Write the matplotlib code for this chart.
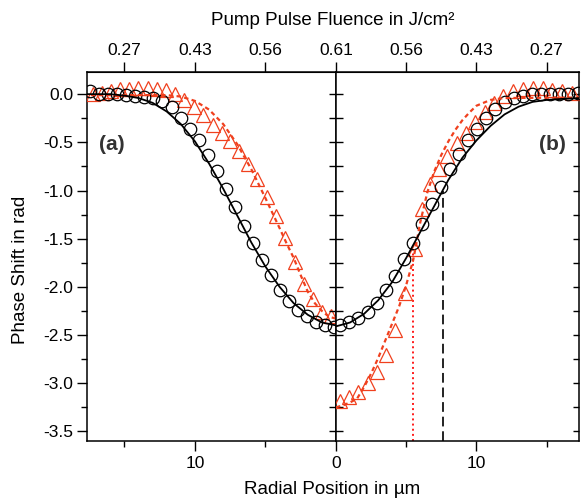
import numpy as np
import matplotlib
matplotlib.use('Agg')
import matplotlib.pyplot as plt

plt.rcParams['font.family'] = ['Liberation Sans', 'DejaVu Sans']

# ---- data (radial position in um, phase shift in rad) ----
# panel (a), left side, radius measured from the centre
r_circ_a = [0.14, 0.78, 1.42, 2.06, 2.70, 3.34, 3.98, 4.62, 5.26, 5.90, 6.54, 7.18, 7.82, 8.46,
            9.10, 9.74, 10.38, 11.02, 11.66, 12.30, 12.94, 13.58, 14.22, 14.86, 15.50, 16.14, 16.78, 17.42]
phi_circ_a = [-2.42, -2.40, -2.36, -2.30, -2.24, -2.15, -2.035, -1.88, -1.72, -1.55, -1.37, -1.17, -0.98, -0.80,
              -0.63, -0.48, -0.36, -0.25, -0.13, -0.07, -0.04, -0.03, -0.02, -0.01, 0.0, 0.0, 0.0, 0.03]

r_tri_a = [0.38, 1.01, 1.61, 2.27, 2.91, 3.62, 4.26, 4.91, 5.58, 6.22, 6.86, 7.52, 8.11, 8.74, 9.45,
           10.09, 10.74, 11.39, 12.04, 12.70, 13.35, 14.00, 14.65, 15.30, 15.96, 16.61, 17.26]
phi_tri_a = [-2.30, -2.265, -2.125, -1.966, -1.745, -1.49, -1.26, -1.065, -0.879, -0.73, -0.585, -0.488, -0.408,
             -0.325, -0.22, -0.13, -0.06, 0.0, 0.04, 0.055, 0.06, 0.06, 0.055, 0.05, 0.03, 0.01, 0.0]

r_fit_black_a = [0, 1, 2, 3, 4, 5, 6, 7, 8, 9, 10, 11, 12, 13, 14, 15, 16, 17.7]
phi_fit_black_a = [-2.40, -2.37, -2.29, -2.17, -2.00, -1.79, -1.54, -1.26, -0.98, -0.72, -0.49, -0.31,
                   -0.18, -0.09, -0.04, -0.015, 0.0, 0.0]

r_fit_red_a = [0, 0.5, 1, 1.5, 2, 2.5, 3, 3.5, 4, 5, 6, 7, 8, 9, 10, 11, 12, 13, 17.7]
phi_fit_red_a = [-2.33, -2.31, -2.25, -2.17, -2.05, -1.88, -1.70, -1.55, -1.39, -1.08, -0.78, -0.52,
                 -0.31, -0.16, -0.07, -0.025, -0.01, -0.01, -0.01]

# panel (b), right side
r_circ_b = [0.3, 0.95, 1.6, 2.25, 2.9, 3.55, 4.2, 4.85, 5.5, 6.15, 6.8, 7.45, 8.1, 8.75, 9.4, 10.05,
            10.7, 11.35, 12.0, 12.65, 13.3, 13.95, 14.6, 15.25, 15.9, 16.55, 17.2]
phi_circ_b = [-2.40, -2.37, -2.32, -2.26, -2.17, -2.03, -1.89, -1.71, -1.54, -1.35, -1.14, -0.96, -0.78,
              -0.62, -0.48, -0.36, -0.245, -0.15, -0.085, -0.04, -0.015, 0.0, 0.0, 0.0, 0.0, 0.0, 0.01]

r_tri_b = [0.28, 0.96, 1.6, 2.27, 2.91, 3.55, 4.19, 4.9, 5.61, 6.1, 6.68, 7.32, 7.92, 8.6, 9.24, 9.88,
           10.59, 11.23, 11.87, 12.58, 13.29, 14.0, 14.71, 15.35, 16.06, 16.77]
phi_tri_b = [-3.19, -3.14, -3.09, -3.0, -2.88, -2.71, -2.45, -2.06, -1.61, -1.19, -0.93, -0.78, -0.645,
             -0.51, -0.40, -0.29, -0.18, -0.09, -0.02, 0.03, 0.055, 0.06, 0.06, 0.04, 0.03, 0.01]

r_fit_black_b = [0, 1, 2, 3, 4, 5, 6, 7, 8, 9, 10, 11, 12, 13, 14, 15, 16, 17.4]
phi_fit_black_b = [-2.41, -2.37, -2.28, -2.14, -1.95, -1.70, -1.43, -1.16, -0.89, -0.66, -0.48, -0.33,
                   -0.21, -0.13, -0.08, -0.06, -0.05, -0.04]

r_fit_red_b = [0, 0.5, 1, 1.5, 2, 2.5, 3, 3.5, 4, 4.5, 5, 5.5, 6, 6.5, 7, 7.5, 8, 8.5, 9, 9.5, 10, 11, 12, 17.4]
phi_fit_red_b = [-3.25, -3.23, -3.20, -3.16, -3.04, -2.90, -2.74, -2.56, -2.38, -2.20, -1.98, -1.72, -1.33,
                 -1.02, -0.80, -0.63, -0.49, -0.37, -0.27, -0.19, -0.12, -0.06, -0.04, -0.035]

# marker radii (vertical guides in panel b)
r_mark_red, phi_mark_red = 5.49, -1.61
r_mark_black, phi_mark_black = 7.65, -1.0

# top axis: fluence at given radii
fluence_r = [0, 5, 10, 15]
fluence_lbl = ['0.61', '0.56', '0.43', '0.27']

red = '#f0401e'
ylim = (-3.60, 0.23)

fig = plt.figure(figsize=(5.82, 4.98), dpi=100)
axa = fig.add_axes([87/582, 1 - 441/498, (336 - 87)/582, (441 - 72)/498])
axb = fig.add_axes([336/582, 1 - 441/498, (579 - 336)/582, (441 - 72)/498])

mk = dict(linestyle='none', markerfacecolor='none', markeredgewidth=0.9)

for ax, rc, pc, rt, pt, rfb, pfb, rfr, pfr in [
        (axa, r_circ_a, phi_circ_a, r_tri_a, phi_tri_a, r_fit_black_a, phi_fit_black_a, r_fit_red_a, phi_fit_red_a),
        (axb, r_circ_b, phi_circ_b, r_tri_b, phi_tri_b, r_fit_black_b, phi_fit_black_b, r_fit_red_b, phi_fit_red_b)]:
    ax.plot(rt, pt, marker='^', markersize=10, markeredgecolor=red, zorder=3, **mk)
    ax.plot(rc, pc, marker='o', markersize=9, markeredgecolor='black', zorder=4, **mk)
    ax.plot(rfr, pfr, color=red, lw=1.6, linestyle=(0, (2.0, 1.5)), zorder=5)
    ax.plot(rfb, pfb, color='black', lw=1.3, zorder=5)
    ax.set_ylim(ylim)

axb.plot([r_mark_red, r_mark_red], [ylim[0], phi_mark_red], color='#ff1a1a', lw=1.4, linestyle=':', zorder=2)
axb.plot([r_mark_black, r_mark_black], [ylim[0], phi_mark_black], color='#222222', lw=1.4,
         linestyle=(0, (5, 2.5)), zorder=2)

axa.set_xlim(17.65, 0)
axb.set_xlim(0, 17.3)

# y axes
yt = np.arange(-3.5, 0.01, 0.5)
ytm = np.arange(-3.25, 0.2, 0.5)
axa.set_yticks(yt)
axa.set_yticks(ytm, minor=True)
axa.set_yticklabels(['%.1f' % v for v in yt])
axa.tick_params(axis='y', which='major', left=True, right=False, direction='out', length=7, width=1,
                labelsize=12.5, pad=3)
axa.tick_params(axis='y', which='minor', left=True, right=False, direction='out', length=4, width=1)
axb.set_yticks(yt)
axb.set_yticks(ytm, minor=True)
axb.tick_params(axis='y', which='both', left=True, right=True, labelleft=False, direction='inout',
                length=10, width=1)
axb.tick_params(axis='y', which='both', right=True)
for t in axb.yaxis.get_major_ticks() + axb.yaxis.get_minor_ticks():
    t.tick2line.set_markersize(4)
    t.tick2line.set_marker(matplotlib.lines.TICKLEFT)

# bottom x axes
axa.set_xticks([0, 10])
axa.set_xticks([5, 15], minor=True)
axb.set_xticks([10])
axb.set_xticks([5, 15], minor=True)
for ax in (axa, axb):
    ax.tick_params(axis='x', which='major', direction='out', length=7, width=1, labelsize=12.5, pad=4)
    ax.tick_params(axis='x', which='minor', direction='out', length=4, width=1)
    for s in ax.spines.values():
        s.set_linewidth(1.1)

# top fluence axes
seca = axa.secondary_xaxis('top')
seca.set_xticks(fluence_r)
seca.set_xticklabels(fluence_lbl)
seca.tick_params(direction='out', length=7, width=1, labelsize=12.5, pad=3)
secb = axb.secondary_xaxis('top')
secb.set_xticks(fluence_r[1:])
secb.set_xticklabels(fluence_lbl[1:])
secb.tick_params(direction='out', length=7, width=1, labelsize=12.5, pad=3)

axa.text(15.9, -0.52, '(a)', fontsize=15, fontweight='bold', color='#333333', ha='center', va='center')
axb.text(15.4, -0.52, '(b)', fontsize=15, fontweight='bold', color='#333333', ha='center', va='center')

fig.text(333/582, 1 - 20/498, 'Pump Pulse Fluence in J/cm²', fontsize=13.5, ha='center', va='center')
fig.text(332/582, 1 - 489/498, 'Radial Position in µm', fontsize=13.5, ha='center', va='center')
fig.text(21/582, 1 - 270/498, 'Phase Shift in rad', fontsize=13.5, ha='center', va='center', rotation=90)

fig.savefig('out.png', dpi=100)
